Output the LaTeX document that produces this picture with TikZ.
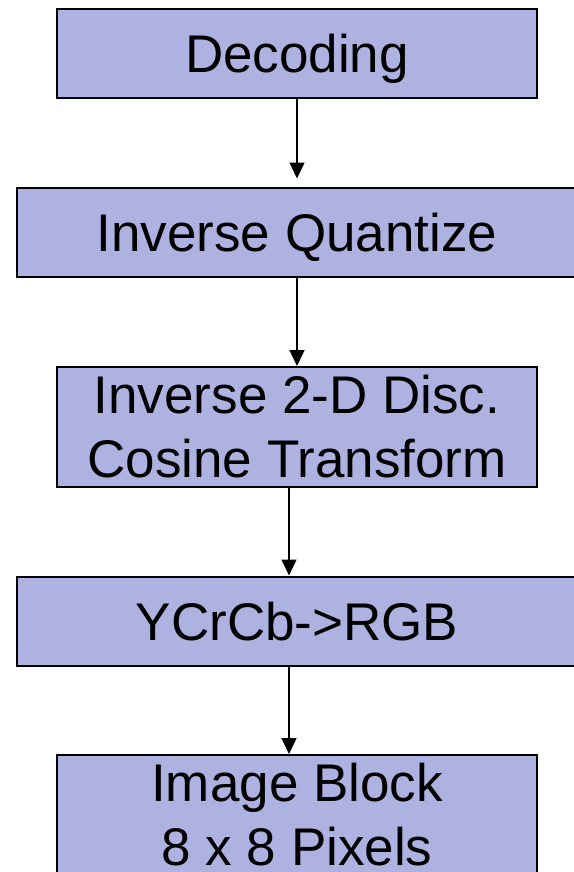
\documentclass[tikz,border=0pt]{standalone}
\usepackage{fontspec}
\setmainfont{Liberation Sans}
\usetikzlibrary{arrows.meta}
\definecolor{blockblue}{RGB}{173,178,224}

\begin{document}
\begin{tikzpicture}[x=1pt, y=-1pt,
      every node/.style={rectangle, draw=black, line width=2pt, fill=blockblue, align=center, inner sep=0pt,
         font=\fontsize{53}{64}\selectfont},
      narrow/.style={minimum width=480pt},
      wide/.style={minimum width=560pt},
      oneline/.style={minimum height=89pt, text height=38pt, text depth=0pt},
      twoline/.style={minimum height=120pt},
      flow/.style={-{Triangle[width=15pt,length=16pt]}, line width=1.5pt}]

   \useasboundingbox (0,0) rectangle (573,872);

   \node[narrow, oneline] (decode)  at (297,54)  {Decoding};
   \node[wide,   oneline] (dequant) at (297,232) {Inverse Quantize};
   \node[narrow, twoline] (idct)    at (297,427) {Inverse 2-D Disc.\\Cosine Transform};
   \node[wide,   oneline] (convert) at (297,621) {YCrCb->RGB};
   \node[narrow, twoline] (block)   at (297,815) {Image Block\\8 x 8 Pixels};

   \draw[flow, shorten >=8pt] (decode) -- (dequant);
   \draw[flow] (dequant) -- (idct);
   \draw[flow] ([xshift=-8pt]idct.south) -- ([xshift=-8pt]convert.north);
   \draw[flow] ([xshift=-8pt]convert.south) -- ([xshift=-8pt]block.north);
\end{tikzpicture}
\end{document}
